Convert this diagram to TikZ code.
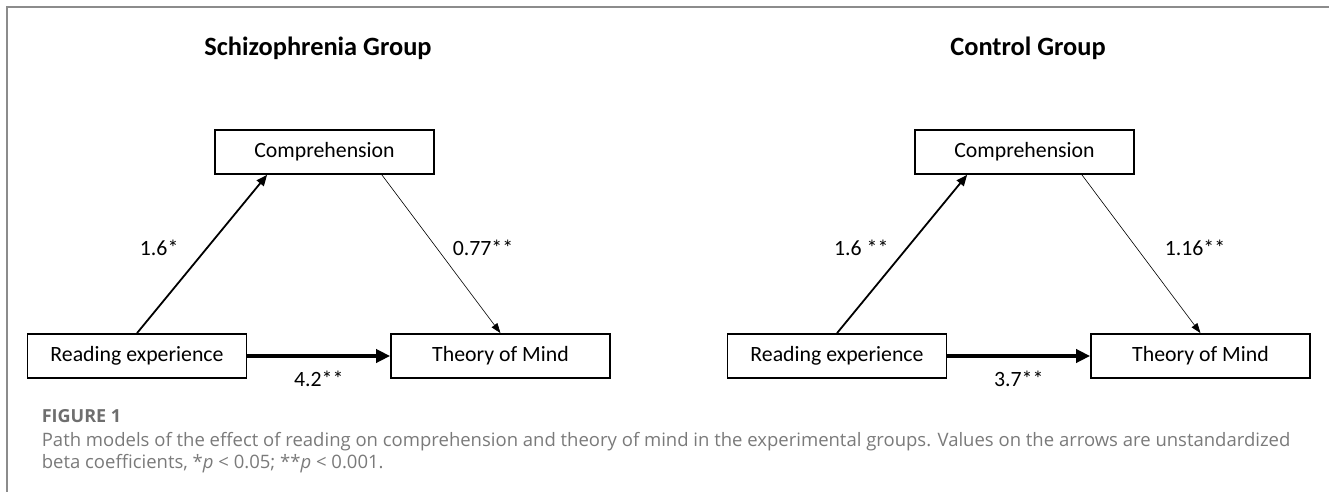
\documentclass[tikz,border=0pt]{standalone}
\usepackage{fontspec}
\setmainfont{Carlito}
\newfontfamily\capfont{Open Sans}
\usetikzlibrary{arrows.meta, positioning, calc}
\definecolor{cframe}{HTML}{8C8C8C}
\definecolor{ccap}{HTML}{7A7A7A}
\tikzset{
  every picture/.style={line width=1.7pt},
  var/.style={draw=black, line width=1.7pt, minimum width=219pt, minimum height=44pt, inner sep=0pt, font=\fontsize{21.8}{25}\selectfont},
  title/.style={font=\fontsize{26.4}{30}\selectfont\bfseries},
  coef/.style={font=\fontsize{21.8}{25}\selectfont, inner sep=1pt},
  arrmid/.style={-{Triangle[length=11pt, width=9pt]}, line width=1.8pt},
  arrthin/.style={-{Triangle[length=10pt, width=7pt]}, line width=0.6pt},
  arrthick/.style={-{Triangle[length=14pt, width=13pt]}, line width=4.6pt},
  captext/.style={font=\capfont\fontsize{18.5}{20}\selectfont, text=ccap, inner sep=0pt, anchor=base west},
}

\begin{document}
\begin{tikzpicture}[x=1pt, y=-1pt]
  \useasboundingbox (0,0) rectangle (1329,492);
  \draw[cframe, line width=1.5pt] (1329,7) -- (7,7) -- (7,492);
  % schizophrenia group
  \node[title] (ti1) at (318,48) {Schizophrenia Group};
  \node[var] (co1) at (324.5,152) {Comprehension};
  \node[var] (re1) at (137,356) {Reading experience};
  \node[var] (tm1) at (500.5,356) {Theory of Mind};
  \draw[arrmid] (re1.north) -- node[coef, pos=.54, left=27pt] {1.6*} ($(co1.south west)!.24!(co1.south east)$);
  \draw[arrthin] ($(co1.south west)!.76!(co1.south east)$) -- node[coef, pos=.46, right=15pt] {0.77**} (tm1.north);
  \draw[arrthick] (re1.east) -- node[coef, below=12pt] {4.2**} (tm1.west);
  % control group
  \node[title] (ti2) at (1028,48) {Control Group};
  \node[var] (co2) at (1024.5,152) {Comprehension};
  \node[var] (re2) at (837,356) {Reading experience};
  \node[var] (tm2) at (1200.5,356) {Theory of Mind};
  \draw[arrmid] (re2.north) -- node[coef, pos=.54, left=17pt] {1.6 **} ($(co2.south west)!.24!(co2.south east)$);
  \draw[arrthin] ($(co2.south west)!.76!(co2.south east)$) -- node[coef, pos=.46, right=27pt] {1.16**} (tm2.north);
  \draw[arrthick] (re2.east) -- node[coef, below=12pt] {3.7**} (tm2.west);
  % caption
  \node[captext, font=\capfont\fontsize{18}{20}\selectfont\bfseries, text=ccap!90!black] (fig) at (41,422) {FIGURE 1};
  \node[captext] (cap1) at (41,446) {Path models of the effect of reading on comprehension and theory of mind in the experimental groups. Values on the arrows are unstandardized};
  \node[captext] (cap2) at (41,468) {beta coefficients, *\textit{p} < 0.05; **\textit{p} < 0.001.};
\end{tikzpicture}
\end{document}
